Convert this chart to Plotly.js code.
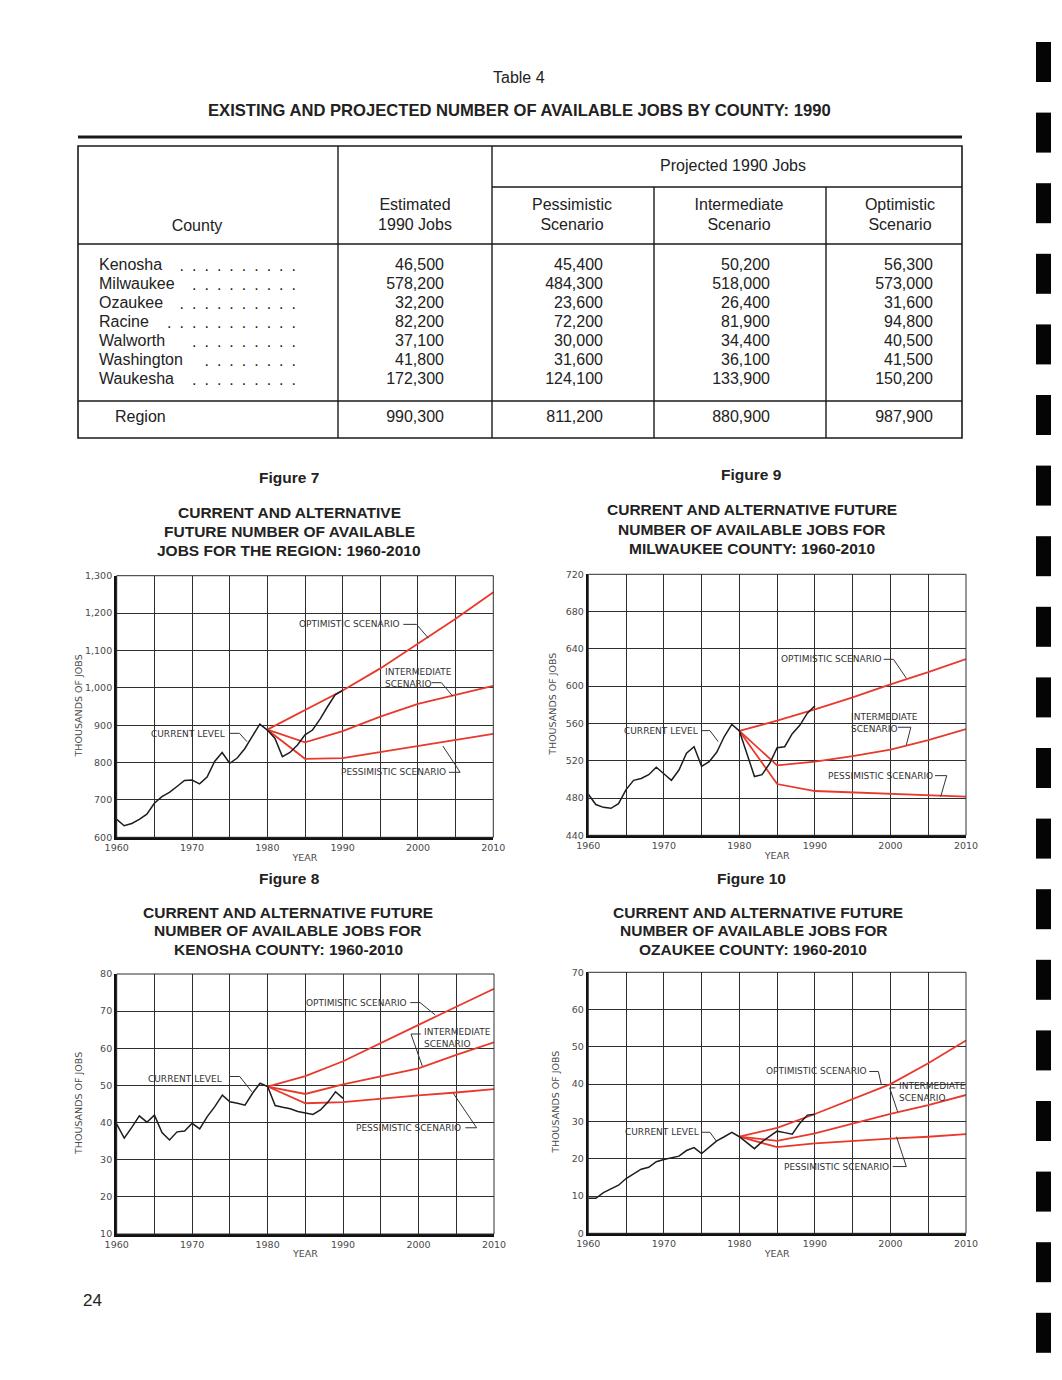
<!DOCTYPE html>
<html>
<head>
<meta charset="utf-8">
<script src="https://cdn.plot.ly/plotly-3.0.1.min.js"></script>
<style>html,body{margin:0;padding:0;background:#fff;}#page{width:1062px;height:1380px;}</style>
</head>
<body>
<div id="page"></div>
<script>
// ---------------- DATA ----------------
const tableCounties = ['Kenosha','Milwaukee','Ozaukee','Racine','Walworth','Washington','Waukesha'];
const tableDots = [10,9,10,11,9,8,9];
const estimated1990 = [46500,578200,32200,82200,37100,41800,172300];
const pessimistic1990 = [45400,484300,23600,72200,30000,31600,124100];
const intermediate1990 = [50200,518000,26400,81900,34400,36100,133900];
const optimistic1990 = [56300,573000,31600,94800,40500,41500,150200];
const regionRow = ['Region',990300,811200,880900,987900];
const headerLabels = ['County','Estimated<br>1990 Jobs','Pessimistic<br>Scenario','Intermediate<br>Scenario','Optimistic<br>Scenario'];
const headerGroup = 'Projected 1990 Jobs';

const histYears = [1960,1961,1962,1963,1964,1965,1966,1967,1968,1969,1970,1971,1972,1973,1974,1975,1976,1977,1978,1979,1980,1981,1982,1983,1984,1985,1986,1987,1988,1989,1990];
const projYears = [1980,1985,1990,1995,2000,2005,2010];
const gridYears = [1960,1965,1970,1975,1980,1985,1990,1995,2000,2005,2010];
const yearLabels = ['1960','','1970','','1980','','1990','','2000','','2010'];

// Figure 7 - Region
const regionCurrent = [648,631,637,648,662,691,709,720,736,752,753,743,761,803,827,798,812,837,870,903,887,865,816,827,847,874,887,916,950,981,993];
const regionOpt = [888,940,993,1052,1118,1185,1256];
const regionInt = [888,854,884,923,957,981,1005];
const regionPess = [888,810,812,828,845,861,877];
const regionTicks = [600,700,800,900,1000,1100,1200,1300];

// Figure 9 - Milwaukee
const milCurrent = [484,473,470,469,474,489,499,501,505,513,506,499,510,528,535,514,519,529,546,559,552,528,503,505,517,534,535,549,558,571,579];
const milOpt = [552,563,575,588,602,615,629];
const milInt = [552,515,519,525,532,542,554];
const milPess = [552,495,487.5,486,484,482.5,481.5];
const milTicks = [440,480,520,560,600,640,680,720];

// Figure 8 - Kenosha
const kenCurrent = [39.6,35.8,38.7,41.8,40.1,42,37.3,35.3,37.5,37.7,39.8,38.3,41.6,44.3,47.4,45.6,45.2,44.7,47.9,50.6,49.7,44.6,44.1,43.7,43,42.5,42.2,43.4,45.5,48.3,46.5];
const kenOpt = [49.7,52.5,56.5,61.3,66.3,71.2,76];
const kenInt = [49.7,47.7,50.3,52.5,54.6,58.2,61.6];
const kenPess = [49.7,45.2,45.5,46.5,47.3,48.1,49];
const kenTicks = [10,20,30,40,50,60,70,80];

// Figure 10 - Ozaukee
const ozCurrent = [9.4,9.4,10.9,11.8,12.9,14.7,15.9,17.2,17.7,19.2,19.8,20.3,20.7,22.2,23,21.4,23,24.8,25.9,27.1,25.9,24.3,22.7,24.6,26.1,27.4,27,26.6,29.5,31.7,31.9];
const ozOpt = [25.9,28.3,32,35.9,40,45.6,51.7];
const ozInt = [25.9,24.8,26.8,29.5,32,34.4,37.1];
const ozPess = [25.9,23.1,24.1,24.8,25.4,25.9,26.6];
const ozTicks = [0,10,20,30,40,50,60,70];

// ---------------- LAYOUT HELPERS ----------------
const W = 1062, H = 1380;
const fx = p => p / W;
const fy = p => 1 - p / H;
const fmt = n => n.toLocaleString('en-US');

const TXT = '#222';
const tableFont = {family:'Liberation Sans, Arial, sans-serif', size:16, color:TXT};
const chartFont = {family:'DejaVu Sans, sans-serif', size:9, color:'#333'};
const tickFont = {family:'DejaVu Sans, sans-serif', size:9.5, color:'#4a4a4a'};
const RED = '#e8392c';
const BLACK = '#1d1d1d';

const traces = [];
const shapes = [];
const annotations = [];

// ---------------- TABLE (on page-pixel axis x5/y5) ----------------
const tL = 78, tR = 962, tTop = 146, tBot = 438;
const numRight = [444,603,770,933];
const rowTop = 266, rowH = 19, regionY = 418;

const numCols = [estimated1990, pessimistic1990, intermediate1990, optimistic1990];
numCols.forEach((col, c) => {
  traces.push({
    type:'scatter', mode:'text', xaxis:'x5', yaxis:'y5', hoverinfo:'skip', showlegend:false,
    x: col.map(() => numRight[c]), y: col.map((v,i) => rowTop + i*rowH),
    text: col.map(fmt), textposition:'middle left', textfont: tableFont, cliponaxis:false
  });
});
traces.push({
  type:'scatter', mode:'text', xaxis:'x5', yaxis:'y5', hoverinfo:'skip', showlegend:false,
  x: tableCounties.map(() => 99), y: tableCounties.map((v,i) => rowTop + i*rowH),
  text: tableCounties, textposition:'middle right', textfont: tableFont, cliponaxis:false
});
traces.push({
  type:'scatter', mode:'text', xaxis:'x5', yaxis:'y5', hoverinfo:'skip', showlegend:false,
  x: tableDots.map(() => 296), y: tableDots.map((v,i) => rowTop + i*rowH + 1),
  text: tableDots.map(n => Array(n).fill('.').join('\u2002')), textposition:'middle left',
  textfont: {family:'Liberation Sans, Arial, sans-serif', size:16, color:TXT}, cliponaxis:false
});
traces.push({
  type:'scatter', mode:'text', xaxis:'x5', yaxis:'y5', hoverinfo:'skip', showlegend:false,
  x: [115].concat(numRight), y: regionRow.map(() => regionY),
  text: regionRow.map((v,i) => i === 0 ? v : fmt(v)),
  textposition: regionRow.map((v,i) => i === 0 ? 'middle right' : 'middle left'),
  textfont: tableFont, cliponaxis:false
});
const headerX = [197,415,572,739,900];
const headerY = [227,216,216,216,216];
traces.push({
  type:'scatter', mode:'text', xaxis:'x5', yaxis:'y5', hoverinfo:'skip', showlegend:false,
  x: headerX.concat([733]), y: headerY.concat([167]),
  text: headerLabels.concat([headerGroup]), textposition:'middle center',
  textfont: tableFont, cliponaxis:false
});
const tl = (x0,y0,x1,y1,w) => shapes.push({type:'line', xref:'x5', yref:'y5', x0, y0, x1, y1, line:{color:'#1a1a1a', width:w}});
tl(tL,137,tR,137,3);
shapes.push({type:'rect', xref:'x5', yref:'y5', x0:tL, y0:tTop, x1:tR, y1:tBot, line:{color:'#1a1a1a', width:1.6}});
tl(492,187,tR,187,1.4);
tl(tL,244,tR,244,1.4);
tl(tL,401,tR,401,1.4);
tl(338,tTop,338,tBot,1.4);
tl(492,tTop,492,tBot,1.4);
tl(654,187,654,tBot,1.4);
tl(826,187,826,tBot,1.4);

// binder marks
for (let k = 0; k < 19; k++) {
  const y0 = 42 + 70.6*k;
  shapes.push({type:'rect', xref:'x5', yref:'y5', x0:1036, x1:1051, y0:y0, y1:y0+40, fillcolor:'#050505', line:{width:0}});
}

const pa = (text, x, y, size, bold) => annotations.push({
  xref:'paper', yref:'paper', x: fx(x), y: fy(y), xanchor:'center', yanchor:'middle', showarrow:false,
  text: bold ? '<b>'+text+'</b>' : text,
  font:{family:'Liberation Sans, Arial, sans-serif', size:size, color:TXT}
});
pa('Table 4', 519, 77, 16, false);
pa('EXISTING AND PROJECTED NUMBER OF AVAILABLE JOBS BY COUNTY: 1990', 519, 111, 16.6, true);
pa('Figure 7', 289, 477, 15.5, true);
pa('CURRENT AND ALTERNATIVE', 289, 512, 15.5, true);
pa('FUTURE NUMBER OF AVAILABLE', 289, 531, 15.5, true);
pa('JOBS FOR THE REGION: 1960-2010', 289, 550, 15.5, true);
pa('Figure 9', 751, 475, 15.5, true);
pa('CURRENT AND ALTERNATIVE FUTURE', 752, 510, 15.5, true);
pa('NUMBER OF AVAILABLE JOBS FOR', 752, 529, 15.5, true);
pa('MILWAUKEE COUNTY: 1960-2010', 752, 548, 15.5, true);
pa('Figure 8', 289, 878, 15.5, true);
pa('CURRENT AND ALTERNATIVE FUTURE', 288, 912, 15.5, true);
pa('NUMBER OF AVAILABLE JOBS FOR', 288, 931, 15.5, true);
pa('KENOSHA COUNTY: 1960-2010', 288, 950, 15.5, true);
pa('Figure 10', 751, 878, 15.5, true);
pa('CURRENT AND ALTERNATIVE FUTURE', 758, 912, 15.5, true);
pa('NUMBER OF AVAILABLE JOBS FOR', 754, 931, 15.5, true);
pa('OZAUKEE COUNTY: 1960-2010', 753, 950, 15.5, true);
pa('24', 92, 1300, 17, false);

// ---------------- CHARTS ----------------
const layoutAxes = {};
function chart(n, dom, range, ticks, cur, opt, int, pess, labels, ytitleX) {
  const xa = 'x'+n, ya = 'y'+n;
  const line = (x, y, color, w) => ({type:'scatter', mode:'lines', xaxis:xa, yaxis:ya, x, y, hoverinfo:'skip', showlegend:false, line:{color, width:w}});
  traces.push(line(projYears, opt, RED, 1.8));
  traces.push(line(projYears, int, RED, 1.8));
  traces.push(line(projYears, pess, RED, 1.8));
  traces.push(line(histYears, cur, BLACK, 1.5));
  layoutAxes['xaxis'+n] = {
    domain:[fx(dom[0]), fx(dom[1])], range:[1960,2010], anchor:ya,
    tickmode:'array', tickvals:gridYears, ticktext:yearLabels, ticks:'',
    showgrid:true, gridcolor:'#2e2e2e', gridwidth:1, zeroline:false,
    showline:true, linecolor:'#111', linewidth:2.6, tickfont:tickFont,
    title:{text:'YEAR', font:tickFont, standoff:2}, fixedrange:true
  };
  layoutAxes['yaxis'+n] = {
    domain:[fy(dom[3]), fy(dom[2])], range:range, anchor:xa,
    tickmode:'array', tickvals:ticks, ticktext:ticks.map(fmt), ticks:'',
    showgrid:true, gridcolor:'#2e2e2e', gridwidth:1, zeroline:false,
    showline:true, linecolor:'#111', linewidth:2.6, tickfont:tickFont,
    fixedrange:true
  };
  annotations.push({xref:'paper', yref:'paper', x:fx(ytitleX), y:fy((dom[2]+dom[3])/2), textangle:-90,
    showarrow:false, text:'THOUSANDS OF JOBS', font:tickFont, xanchor:'center', yanchor:'middle'});
  shapes.push({type:'rect', xref:xa+' domain', yref:ya+' domain', x0:0, x1:1, y0:0, y1:1, line:{color:'#2e2e2e', width:1}});
  labels.forEach(l => {
    annotations.push({xref:xa, yref:ya, x:l.x, y:l.y, text:l.t, showarrow:false,
      xanchor:l.a||'center', yanchor:'middle', align:'left', font:chartFont});
    const d = l.p.map((pt,i) => (i===0?'M ':'L ')+pt[0]+' '+pt[1]).join(' ');
    shapes.push({type:'path', xref:xa, yref:ya, path:d, line:{color:'#333', width:1}});
  });
}

chart(7, [116.7,493.3,575.7,837.3], [600,1300], regionTicks, regionCurrent, regionOpt, regionInt, regionPess, [
  {t:'OPTIMISTIC SCENARIO', x:1990.9, y:1169.8, p:[[1998.05,1169.8],[1999.8,1169.8],[2001.4,1132.7]]},
  {t:'INTERMEDIATE<br>SCENARIO', x:1995.4, y:1026.3, a:'left', p:[[2001.8,1013.8],[2003.1,1013.8],[2004.6,978.1]]},
  {t:'CURRENT LEVEL', x:1969.4, y:875.5, p:[[1974.96,878.2],[1976.3,878.2],[1977.3,855.9]]},
  {t:'PESSIMISTIC SCENARIO', x:1996.8, y:773.9, p:[[2004.1,773.9],[2005.6,773.9],[2003.3,844.3]]}
], 78);

chart(9, [588.3,966,574.3,835.3], [440,720], milTicks, milCurrent, milOpt, milInt, milPess, [
  {t:'OPTIMISTIC SCENARIO', x:1992.2, y:628.8, p:[[1999.1,628.8],[2000.4,628.8],[2002.1,608.5]]},
  {t:'INTERMEDIATE<br>SCENARIO', x:1994.55, y:560.9, a:'left', p:[[2001.0,555.9],[2002.7,555.9],[2002.1,536.9]]},
  {t:'CURRENT LEVEL', x:1969.6, y:551.9, p:[[1975.0,552.3],[1976.1,552.3],[1977.2,540.5]]},
  {t:'PESSIMISTIC SCENARIO', x:1998.7, y:504, p:[[2005.9,504],[2007.45,504],[2006.65,481.5]]}
], 553);

chart(8, [116.7,494,974,1234], [10,80], kenTicks, kenCurrent, kenOpt, kenInt, kenPess, [
  {t:'OPTIMISTIC SCENARIO', x:1991.8, y:72.1, p:[[1998.9,72.3],[2000.2,72.3],[2002.2,69.0]]},
  {t:'INTERMEDIATE<br>SCENARIO', x:2000.5, y:62.8, a:'left', p:[[2000.3,63.85],[1999.0,63.85],[2000.5,55.2]]},
  {t:'CURRENT LEVEL', x:1969.0, y:51.6, p:[[1974.9,52.4],[1976.3,52.4],[1977.9,48.3]]},
  {t:'PESSIMISTIC SCENARIO', x:1998.7, y:38.6, p:[[2006.2,38.6],[2007.7,38.6],[2004.6,47.9]]}
], 78);

chart(10, [588.3,966,972.3,1233.3], [0,70], ozTicks, ozCurrent, ozOpt, ozInt, ozPess, [
  {t:'OPTIMISTIC SCENARIO', x:1990.2, y:43.6, p:[[1997.2,43.4],[1998.4,43.4],[1998.8,39.8]]},
  {t:'INTERMEDIATE<br>SCENARIO', x:2000.8, y:37.8, a:'left', p:[[2000.65,39.0],[1999.9,39.0],[2000.95,32.6]]},
  {t:'CURRENT LEVEL', x:1969.7, y:27.1, p:[[1975.0,27.1],[1976.1,27.1],[1977.0,24.6]]},
  {t:'PESSIMISTIC SCENARIO', x:1992.9, y:17.9, p:[[2000.3,17.9],[2002.1,17.9],[2000.8,25.9]]}
], 556);

const layout = Object.assign({
  width:W, height:H, margin:{l:0,r:0,t:0,b:0}, paper_bgcolor:'#fff', plot_bgcolor:'rgba(0,0,0,0)',
  showlegend:false, shapes, annotations,
  xaxis5:{domain:[0,1], range:[0,W], visible:false, fixedrange:true, anchor:'y5'},
  yaxis5:{domain:[0,1], range:[H,0], visible:false, fixedrange:true, anchor:'x5'}
}, layoutAxes);

Plotly.newPlot('page', traces, layout, {staticPlot:true, displayModeBar:false});
</script>
</body>
</html>
